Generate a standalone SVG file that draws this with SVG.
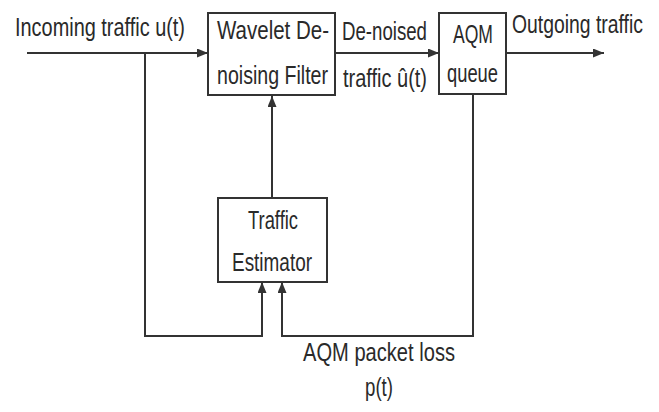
<svg xmlns="http://www.w3.org/2000/svg" width="659" height="412" viewBox="0 0 659 412">
<defs>
<style>
.box{fill:#fff;stroke:#333;stroke-width:2}
.ln{fill:none;stroke:#333;stroke-width:2}
.t{font-family:"Liberation Sans",Arial,sans-serif;font-size:26.5px;fill:#2a2a2a}
</style>
<marker id="ah" markerUnits="userSpaceOnUse" markerWidth="12" markerHeight="10" refX="11" refY="4.5" orient="auto">
<path d="M0,0 L11,4.5 L0,9 z" fill="#333"/>
</marker>
</defs>
<rect width="659" height="412" fill="#fff"/>
<g id="connectors">
<path class="ln" d="M27,53 H208" marker-end="url(#ah)"/>
<path class="ln" d="M145,53 V336 H262 V282" marker-end="url(#ah)"/>
<path class="ln" d="M272,198 V96" marker-end="url(#ah)"/>
<path class="ln" d="M335,53 H439" marker-end="url(#ah)"/>
<path class="ln" d="M506,53 H604" marker-end="url(#ah)"/>
<path class="ln" d="M473,94 V336 H282 V282" marker-end="url(#ah)"/>
</g>
<g id="filter">
<rect class="box" x="208" y="13" width="127" height="82"/>
<text class="t" x="217" y="39" textLength="112" lengthAdjust="spacingAndGlyphs">Wavelet De-</text>
<text class="t" x="217" y="84" textLength="111" lengthAdjust="spacingAndGlyphs">noising Filter</text>
</g>
<g id="aqm">
<rect class="box" x="439" y="13" width="67" height="81"/>
<text class="t" x="453" y="43" textLength="40" lengthAdjust="spacingAndGlyphs">AQM</text>
<text class="t" x="447" y="82" textLength="51" lengthAdjust="spacingAndGlyphs">queue</text>
</g>
<g id="estimator">
<rect class="box" x="218" y="198" width="109" height="84"/>
<text class="t" x="248" y="229" textLength="50" lengthAdjust="spacingAndGlyphs">Traffic</text>
<text class="t" x="232" y="271" textLength="80" lengthAdjust="spacingAndGlyphs">Estimator</text>
</g>
<g id="labels">
<text class="t" x="15" y="36" textLength="170" lengthAdjust="spacingAndGlyphs">Incoming traffic u(t)</text>
<text class="t" x="342" y="40" textLength="85" lengthAdjust="spacingAndGlyphs">De-noised</text>
<text class="t" x="343" y="87" textLength="84" lengthAdjust="spacingAndGlyphs">traffic û(t)</text>
<text class="t" x="512" y="33" textLength="131" lengthAdjust="spacingAndGlyphs">Outgoing traffic</text>
<text class="t" x="303" y="361" textLength="152" lengthAdjust="spacingAndGlyphs">AQM packet loss</text>
<text class="t" x="365" y="396" textLength="28" lengthAdjust="spacingAndGlyphs">p(t)</text>
</g>
</svg>
